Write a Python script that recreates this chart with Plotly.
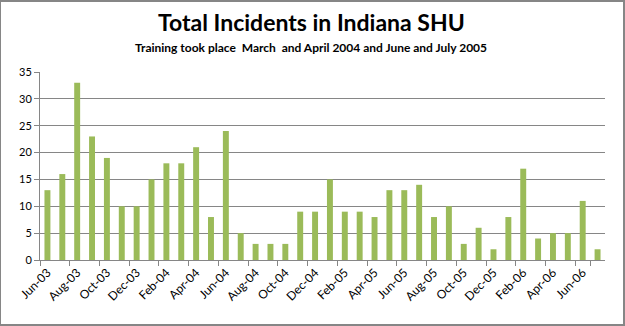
import plotly.graph_objects as go

months = ["Jun-03","Jul-03","Aug-03","Sep-03","Oct-03","Nov-03","Dec-03","Jan-04","Feb-04","Mar-04",
          "Apr-04","May-04","Jun-04","Jul-04","Aug-04","Sep-04","Oct-04","Nov-04","Dec-04","Jan-05",
          "Feb-05","Mar-05","Apr-05","May-05","Jun-05","Jul-05","Aug-05","Sep-05","Oct-05","Nov-05",
          "Dec-05","Jan-06","Feb-06","Mar-06","Apr-06","May-06","Jun-06","Jul-06"]
incidents = [13,16,33,23,19,10,10,15,18,18,
             21,8,24,5,3,3,3,9,9,15,
             9,9,8,13,13,14,8,10,3,6,
             2,8,17,4,5,5,11,2]
tick_labels = months[::2]
title_text = "Total Incidents in Indiana SHU"
subtitle_text = "Training took place  March  and April 2004 and June and July 2005"

fig = go.Figure()
fig.add_trace(go.Bar(x=months, y=incidents, marker=dict(color="#9BBB59", line=dict(width=0)),
                     width=0.4))

font = "Lato, Carlito, 'Open Sans', sans-serif"
PH = 188
fig.update_layout(
    width=625, height=326,
    margin=dict(l=40, r=20, t=72, b=66),
    paper_bgcolor="white", plot_bgcolor="white",
    showlegend=False,
    font=dict(family=font, size=11, color="#000000"),
    xaxis=dict(type="category", categoryorder="array", categoryarray=months,
               tickmode="array", tickvals=tick_labels, ticktext=tick_labels,
               tickangle=-45, ticks="outside", ticklen=5, tickcolor="#868686",
               tickson="boundaries",
               showline=True, linecolor="#868686", linewidth=1, showgrid=False,
               tickfont=dict(size=12, color="#000000")),
    yaxis=dict(range=[0, 35], dtick=5, tick0=0, showgrid=True, gridcolor="#868686", gridwidth=1,
               showline=True, linecolor="#868686", linewidth=1, ticks="outside", ticklen=5,
               tickcolor="#868686", zeroline=False, tickfont=dict(size=11, color="#000000")),
    annotations=[
        dict(text="<b>" + title_text + "</b>", xref="paper", yref="paper", x=0.48, y=1 + 50/PH,
             xanchor="center", yanchor="middle", showarrow=False,
             font=dict(family=font, size=23, color="black")),
        dict(text="<b>" + subtitle_text + "</b>", xref="paper", yref="paper", x=0.48, y=1 + 25/PH,
             xanchor="center", yanchor="middle", showarrow=False,
             font=dict(family=font, size=12, color="black")),
    ],
    shapes=[dict(type="rect", xref="paper", yref="paper",
                 x0=-40/565, x1=1+19/565, y0=-65/PH, y1=1+71/PH,
                 line=dict(color="#868686", width=2), fillcolor="rgba(0,0,0,0)")],
)
fig.write_html("out.html")
